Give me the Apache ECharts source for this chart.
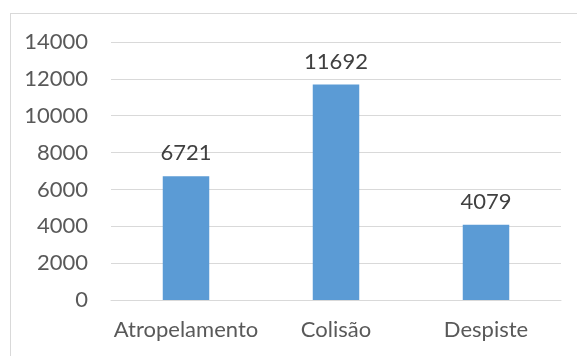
<!DOCTYPE html>
<html>
<head>
<meta charset="utf-8">
<script src="https://cdn.jsdelivr.net/npm/echarts@6/dist/echarts.min.js"></script>
<style>
  html, body { margin: 0; padding: 0; background: #fff; }
  #frame { position: absolute; left: 10px; top: 13px; width: 600px; height: 400px;
           border-left: 1px solid #d9d9d9; border-top: 1px solid #d9d9d9; }
  #chart { position: absolute; left: 0; top: 0; width: 577px; height: 356px; }
</style>
</head>
<body>
<div id="frame"></div>
<div id="chart"></div>
<script>
// Accident types and counts
const categories = ['Atropelamento', 'Colisão', 'Despiste'];
const counts = [6721, 11692, 4079];
const yTicks = { min: 0, max: 14000, interval: 2000 };

const textColor = '#595959';
const fontFamily = 'Lato, "Open Sans", sans-serif';
const fontSize = 22;

const chart = echarts.init(document.getElementById('chart'), null, { renderer: 'canvas' });
chart.setOption({
  animation: false,
  grid: { left: 111, right: 16, top: 42, bottom: 56, containLabel: false },
  xAxis: {
    type: 'category',
    data: categories,
    axisLine: { lineStyle: { color: '#d9d9d9', width: 1 } },
    axisTick: { show: false },
    axisLabel: {
      interval: 0, hideOverlap: false,
      color: textColor, fontSize: fontSize, fontFamily: fontFamily, margin: 19
    }
  },
  yAxis: {
    type: 'value',
    min: yTicks.min,
    max: yTicks.max,
    interval: yTicks.interval,
    axisLine: { show: false },
    axisTick: { show: false },
    splitLine: { lineStyle: { color: '#d9d9d9', width: 1 } },
    axisLabel: {
      color: textColor, fontSize: fontSize, fontFamily: fontFamily, margin: 23,
      formatter: (v) => String(v)
    }
  },
  series: [{
    type: 'bar',
    data: counts,
    barWidth: '31%',
    itemStyle: { color: '#5b9bd5' },
    label: {
      show: true,
      position: 'top',
      distance: 12,
      color: '#404040',
      fontSize: fontSize,
      fontFamily: fontFamily
    }
  }]
});
</script>
</body>
</html>
